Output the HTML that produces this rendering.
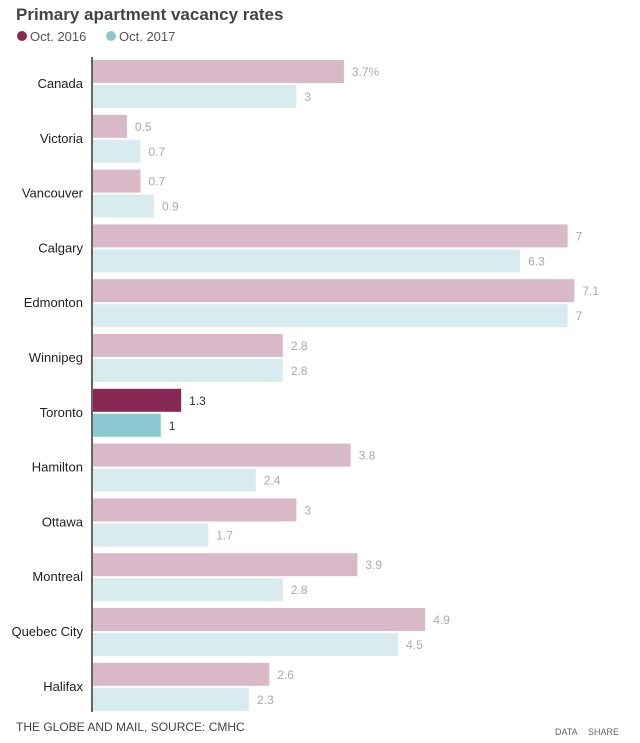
<!DOCTYPE html>
<html><head><meta charset="utf-8"><style>
body{margin:0;background:#fff;font-family:"Liberation Sans",sans-serif;}
#wrap{position:relative;width:640px;height:743px;overflow:hidden}
</style></head><body><div id="wrap">
<svg id="c" width="640" height="743">
<text x="16" y="20" font-size="17" font-weight="bold" fill="#444">Primary apartment vacancy rates</text>
<g><circle cx="22" cy="36" r="5" fill="#862a55"/><text x="30" y="41" font-size="13" fill="#555">Oct. 2016</text></g>
<g><circle cx="111" cy="36" r="5" fill="#8ac9d2"/><text x="119" y="41" font-size="13" fill="#555">Oct. 2017</text></g>
<g id="bars"></g>
<line x1="92" y1="57" x2="92" y2="712" stroke="#333" stroke-width="1.5"/>
<text x="16" y="731" font-size="12" fill="#444">THE GLOBE AND MAIL, SOURCE: CMHC</text>
<text x="555" y="735" font-size="9" fill="#666">DATA</text>
<text x="588" y="735" font-size="9" fill="#666">SHARE</text>
</svg></div>
<script>
const cities=["Canada","Victoria","Vancouver","Calgary","Edmonton","Winnipeg","Toronto","Hamilton","Ottawa","Montreal","Quebec City","Halifax"];
const v2016=[3.7,0.5,0.7,7,7.1,2.8,1.3,3.8,3,3.9,4.9,2.6];
const v2017=[3,0.7,0.9,6.3,7,2.8,1,2.4,1.7,2.8,4.5,2.3];
const labels2016=["3.7%","0.5","0.7","7","7.1","2.8","1.3","3.8","3","3.9","4.9","2.6"];
const labels2017=["3","0.7","0.9","6.3","7","2.8","1","2.4","1.7","2.8","4.5","2.3"];
const highlight="Toronto";
const x0=93,k=67.8,y0=60,pitch=54.8,bh=23;
const X=v=>v*k;
const g=document.getElementById('bars'),NS="http://www.w3.org/2000/svg";
function mk(t,a){const e=document.createElementNS(NS,t);for(const n in a)e.setAttribute(n,a[n]);g.appendChild(e);return e;}
cities.forEach((c,i)=>{
 const y=y0+i*pitch,hl=c===highlight;
 const lab=mk('text',{x:83,y:y+28,'font-size':13,fill:'#222','text-anchor':'end'});lab.textContent=c;
 
 
 [[v2016,labels2016,hl?'#862a55':'#d9b8c8',0],[v2017,labels2017,hl?'#8ac9d2':'#d8ecef',25]].forEach(([vals,lbs,col,dy],s)=>{
  const r=mk('rect',{x:x0,y:y+dy,width:X(vals[i]),height:bh,fill:col});
  
  
  const t=mk('text',{x:x0+X(vals[i])+8,y:y+dy+16,'font-size':12,fill:hl?'#333':'#aaa'});t.textContent=lbs[i];
  
  
 });
});
</script></body></html>
